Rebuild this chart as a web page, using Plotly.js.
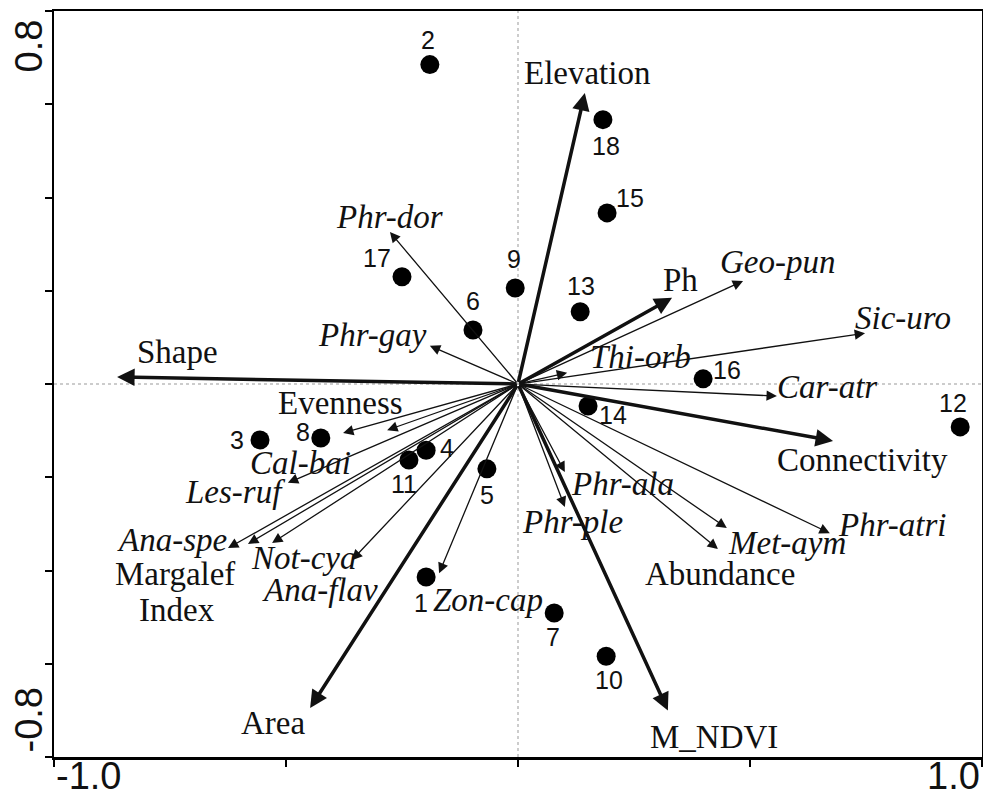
<!DOCTYPE html>
<html><head><meta charset="utf-8">
<script src="https://cdn.plot.ly/plotly-3.0.1.min.js"></script>
<style>html,body{margin:0;padding:0;background:#fff}#chart{width:983px;height:798px}</style>
</head><body><div id="chart"></div>
<script>
// ---- data ----
const siteIds = ['1','2','3','4','5','6','7','8','9','10','11','12','13','14','15','16','17','18'];
const siteX = [-0.198,-0.190,-0.556,-0.198,-0.067,-0.097,0.078,-0.425,-0.006,0.190,-0.235,0.953,0.134,0.151,0.192,0.399,-0.250,0.183];
const siteY = [-0.414,0.685,-0.120,-0.142,-0.182,0.116,-0.491,-0.116,0.206,-0.584,-0.163,-0.092,0.155,-0.047,0.367,0.011,0.230,0.567];

const envNames = ['Elevation','Ph','Shape','Connectivity','M_NDVI','Area'];
const envX = [0.144,0.332,-0.864,0.679,0.323,-0.448];
const envY = [0.624,0.185,0.015,-0.122,-0.700,-0.695];

const idxNames = ['Evenness','Margalef Index','Abundance'];
const idxX = [-0.282,-0.582,0.431];
const idxY = [-0.099,-0.343,-0.354];

const spNames = ['Phr-dor','Phr-gay','Geo-pun','Sic-uro','Thi-orb','Car-atr','Phr-atri','Met-aym','Phr-ala','Phr-ple','Zon-cap','Ana-flav','Not-cya','Ana-spe','Les-ruf','Cal-bai'];
const spX = [-0.276,-0.190,0.485,0.748,0.106,0.558,0.672,0.450,0.101,0.101,-0.170,-0.358,-0.530,-0.625,-0.496,-0.377];
const spY = [0.326,0.082,0.221,0.109,0.024,-0.026,-0.320,-0.309,-0.189,-0.264,-0.406,-0.378,-0.341,-0.352,-0.212,-0.105];

const xTickVals = [-1.0,-0.5,0,0.5,1.0];
const yTickVals = [-0.8,-0.6,-0.4,-0.2,0,0.2,0.4,0.6,0.8];
const xEndLabels = ['-1.0','1.0'];
const yEndLabels = ['-0.8','0.8'];

// ---- label offsets (px, styling only); one [dx,dy] per text line ----
const siteOff = [[-5,-26],[-2,25],[-23,0],[21,2],[0,-26],[0,29],[-1,-24],[-18,6],[-1,29],[3,-24],[-5,-24],[-7,24],[1,26],[25,-9],[23,15],[24,9],[-25,19],[3,-26]];
const envOff = [[[2,20]],[[8,18]],[[60,25]],[[29,-19]],[[46,-27]],[[-37,-15]]];
const idxOff = [[[-47,27]],[[-73,-30],[-71,-66]],[[2,-25]]];
const spOff = [[0,15],[-57,11],[34,19],[38,15],[73,16],[50,9],[63,8],[60,-15],[58,-12],[8,-15],[49,-27],[-32,-30],[31,-15],[-56,8],[-53,-9],[-43,-30]];

const serif = 'Liberation Serif, Times New Roman, serif';
const sans = 'Liberation Sans, Arial, sans-serif';
const ink = '#111';

const annotations = [];
function arrow(x, y, w, size) {
  annotations.push({x: x, y: y, ax: 0, ay: 0, xref: 'x', yref: 'y', axref: 'x', ayref: 'y',
    showarrow: true, arrowhead: 2, arrowwidth: w, arrowsize: size, arrowcolor: ink,
    standoff: 0, startstandoff: 0, font: {size: 1}});
}
function label(x, y, text, off, font) {
  annotations.push({x: x, y: y, xref: 'x', yref: 'y', text: text, showarrow: false,
    xanchor: 'center', yanchor: 'middle', xshift: off[0], yshift: off[1], font: font});
}
function multiLabel(x, y, text, offs, font) {
  const words = offs.length > 1 ? text.split(' ') : [text];
  words.forEach((w, k) => label(x, y, w, offs[k], font));
}
const serifFont = {family: serif, size: 33, color: ink};
for (let i = 0; i < spNames.length; i++) {
  arrow(spX[i], spY[i], 1.3, 1.6);
  label(spX[i], spY[i], '<i>' + spNames[i] + '</i>', spOff[i], serifFont);
}
for (let i = 0; i < idxNames.length; i++) {
  arrow(idxX[i], idxY[i], 1.3, 1.6);
  multiLabel(idxX[i], idxY[i], idxNames[i], idxOff[i], serifFont);
}
for (let i = 0; i < envNames.length; i++) {
  arrow(envX[i], envY[i], 3.5, 1.0);
  multiLabel(envX[i], envY[i], envNames[i], envOff[i], serifFont);
}
for (let i = 0; i < siteIds.length; i++) {
  label(siteX[i], siteY[i], siteIds[i], siteOff[i], {family: sans, size: 25, color: ink});
}
// axis end labels
const tickFont = {family: sans, size: 38, color: ink};
annotations.push({x: xTickVals[0], xref: 'x', y: 0, yref: 'paper', text: xEndLabels[0], showarrow: false,
  xanchor: 'left', yanchor: 'top', yshift: 4, font: tickFont});
annotations.push({x: xTickVals[4], xref: 'x', y: 0, yref: 'paper', text: xEndLabels[1], showarrow: false,
  xanchor: 'right', yanchor: 'top', yshift: 4, font: tickFont});
annotations.push({x: 0, xref: 'paper', xshift: -26, y: yTickVals[8], yref: 'y', text: yEndLabels[1], showarrow: false,
  textangle: -90, xanchor: 'center', yanchor: 'top', yshift: -7, font: tickFont});
annotations.push({x: 0, xref: 'paper', xshift: -26, y: yTickVals[0], yref: 'y', text: yEndLabels[0], showarrow: false,
  textangle: -90, xanchor: 'center', yanchor: 'bottom', yshift: 2, font: tickFont});

const sites = {
  x: siteX, y: siteY, type: 'scatter', mode: 'markers',
  marker: {size: 19, color: '#000'}, hoverinfo: 'text', text: siteIds, cliponaxis: false
};

const layout = {
  width: 983, height: 798,
  margin: {l: 54, r: 1, t: 11, b: 41},
  paper_bgcolor: '#fff', plot_bgcolor: '#fff',
  showlegend: false,
  xaxis: {range: [-1, 1], tickvals: xTickVals, ticktext: xTickVals.map(() => ''),
    ticks: 'outside', ticklen: 7, tickwidth: 2, tickcolor: '#000',
    showline: true, linewidth: 2.5, linecolor: '#000', mirror: true,
    showgrid: false, zeroline: false, fixedrange: true},
  yaxis: {range: [-0.8, 0.8], tickvals: yTickVals, ticktext: yTickVals.map(() => ''),
    ticks: 'outside', ticklen: 7, tickwidth: 2, tickcolor: '#000',
    showline: true, linewidth: 2.5, linecolor: '#000', mirror: true,
    showgrid: false, zeroline: false, fixedrange: true},
  shapes: [
    {type: 'line', xref: 'x', yref: 'paper', x0: 0, x1: 0, y0: 0, y1: 1, layer: 'below',
      line: {color: '#999', width: 1, dash: 'dot'}},
    {type: 'line', xref: 'paper', yref: 'y', x0: 0, x1: 1, y0: 0, y1: 0, layer: 'below',
      line: {color: '#999', width: 1, dash: 'dot'}}
  ],
  annotations: annotations
};

Plotly.newPlot('chart', [sites], layout, {displayModeBar: false, staticPlot: true});
</script>
</body></html>
